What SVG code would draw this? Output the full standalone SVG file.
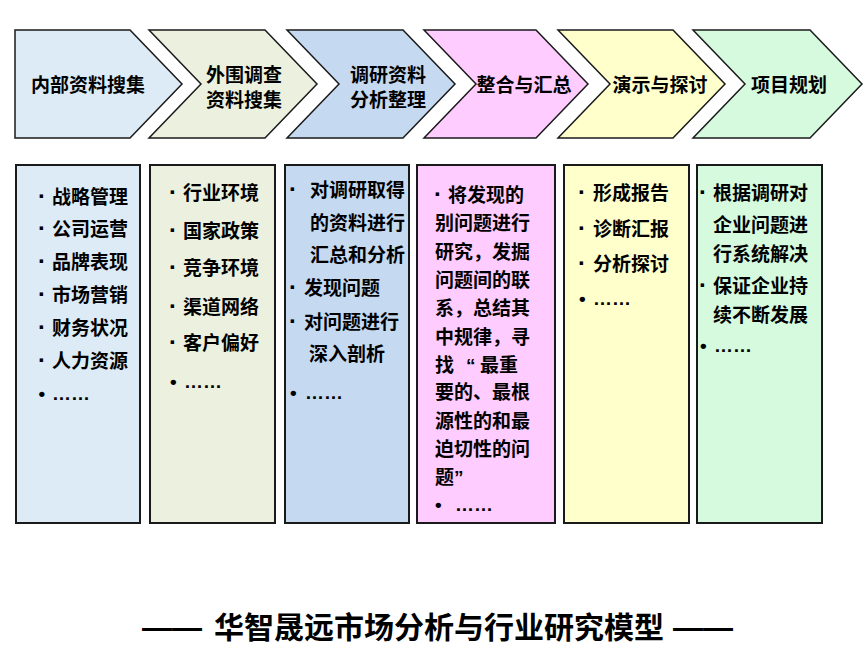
<svg xmlns="http://www.w3.org/2000/svg" width="865" height="662" viewBox="0 0 865 662">
<style>
  .chev { stroke: #1a1a1a; stroke-width: 1.5; stroke-linejoin: miter; }
  .box { stroke: #1a1a1a; stroke-width: 2; }
  text { font-family: "Liberation Sans", "Noto Sans CJK SC", sans-serif; font-weight: 700; fill: #000; }
  .h { font-size: 19px; text-anchor: middle; }
  .t { font-size: 19px; }
  .b { font-size: 24px; }
  .title { font-size: 30px; }
  .c1 { fill: #DDEBF7; } .c2 { fill: #EBF1DE; } .c3 { fill: #C5D9F1; }
  .c4 { fill: #FFCCFF; } .c5 { fill: #FFFFCC; } .c6 { fill: #D6FADD; }
</style>
<rect width="865" height="662" fill="#fff"/>

<g id="step1">
  <polygon class="chev c1" points="15,30 130,30 182,84 130,138 15,138"/>
  <text class="h" x="88" y="92">内部资料搜集</text>
</g>
<g id="step2">
  <polygon class="chev c2" points="149,30 265,30 317,84 265,138 149,138 201,84"/>
  <text class="h" x="244" y="82">外围调查</text>
  <text class="h" x="244" y="107">资料搜集</text>
</g>
<g id="step3">
  <polygon class="chev c3" points="287,30 403,30 455,84 403,138 287,138 339,84"/>
  <text class="h" x="388" y="82">调研资料</text>
  <text class="h" x="388" y="107">分析整理</text>
</g>
<g id="step4">
  <polygon class="chev c4" points="424,30 536,30 588,84 536,138 424,138 476,84"/>
  <text class="h" x="524" y="92">整合与汇总</text>
</g>
<g id="step5">
  <polygon class="chev c5" points="558,30 673,30 725,84 673,138 558,138 610,84"/>
  <text class="h" x="660" y="92">演示与探讨</text>
</g>
<g id="step6">
  <polygon class="chev c6" points="693,30 810,30 862,84 810,138 693,138 745,84"/>
  <text class="h" x="789" y="92">项目规划</text>
</g>

<g id="detail1">
  <rect class="box c1" x="16" y="165" width="124" height="358"/>
  <text class="t"><tspan class="b" x="38" y="204">·</tspan><tspan x="52">战略管理</tspan></text>
  <text class="t"><tspan class="b" x="38" y="236">·</tspan><tspan x="52">公司运营</tspan></text>
  <text class="t"><tspan class="b" x="38" y="269">·</tspan><tspan x="52">品牌表现</tspan></text>
  <text class="t"><tspan class="b" x="38" y="302">·</tspan><tspan x="52">市场营销</tspan></text>
  <text class="t"><tspan class="b" x="38" y="335">·</tspan><tspan x="52">财务状况</tspan></text>
  <text class="t"><tspan class="b" x="38" y="368">·</tspan><tspan x="52">人力资源</tspan></text>
  <text class="t"><tspan x="38.5" y="400">•</tspan><tspan x="52">……</tspan></text>
</g>

<g id="detail2">
  <rect class="box c2" x="150" y="165" width="125" height="358"/>
  <text class="t"><tspan class="b" x="169" y="200">·</tspan><tspan x="183">行业环境</tspan></text>
  <text class="t"><tspan class="b" x="169" y="238">·</tspan><tspan x="183">国家政策</tspan></text>
  <text class="t"><tspan class="b" x="169" y="275">·</tspan><tspan x="183">竞争环境</tspan></text>
  <text class="t"><tspan class="b" x="169" y="314">·</tspan><tspan x="183">渠道网络</tspan></text>
  <text class="t"><tspan class="b" x="169" y="350">·</tspan><tspan x="183">客户偏好</tspan></text>
  <text class="t"><tspan x="170" y="388">•</tspan><tspan x="184">……</tspan></text>
</g>

<g id="detail3">
  <rect class="box c3" x="285" y="165" width="124" height="358"/>
  <text class="t"><tspan class="b" x="289" y="197">·</tspan><tspan x="310">对调研取得</tspan></text>
  <text class="t" x="310" y="230">的资料进行</text>
  <text class="t" x="310" y="262">汇总和分析</text>
  <text class="t"><tspan class="b" x="289" y="295">·</tspan><tspan x="304">发现问题</tspan></text>
  <text class="t"><tspan class="b" x="289" y="329">·</tspan><tspan x="304">对问题进行</tspan></text>
  <text class="t" x="309" y="361">深入剖析</text>
  <text class="t"><tspan x="290" y="399">•</tspan><tspan x="305">……</tspan></text>
</g>

<g id="detail4">
  <rect class="box c4" x="417" y="165" width="138" height="358"/>
  <text class="t"><tspan class="b" x="434" y="202">·</tspan><tspan x="448">将发现的</tspan></text>
  <text class="t" x="435" y="230">别问题进行</text>
  <text class="t" x="435" y="259">研究，发掘</text>
  <text class="t" x="435" y="287">问题间的联</text>
  <text class="t" x="435" y="315">系，总结其</text>
  <text class="t" x="435" y="344">中规律，寻</text>
  <text class="t"><tspan x="435" y="372">找 </tspan><tspan x="466">“</tspan><tspan x="480">最重</tspan></text>
  <text class="t" x="435" y="399">要的、最根</text>
  <text class="t" x="435" y="428">源性的和最</text>
  <text class="t" x="435" y="456">迫切性的问</text>
  <text class="t" x="435" y="484">题”</text>
  <text class="t"><tspan x="435" y="511">•</tspan><tspan x="455">……</tspan></text>
</g>

<g id="detail5">
  <rect class="box c5" x="564" y="165" width="125" height="358"/>
  <text class="t"><tspan class="b" x="578" y="200">·</tspan><tspan x="593">形成报告</tspan></text>
  <text class="t"><tspan class="b" x="578" y="236">·</tspan><tspan x="593">诊断汇报</tspan></text>
  <text class="t"><tspan class="b" x="578" y="271">·</tspan><tspan x="593">分析探讨</tspan></text>
  <text class="t"><tspan x="579" y="305">•</tspan><tspan x="593">……</tspan></text>
</g>

<g id="detail6">
  <rect class="box c6" x="697" y="165" width="125" height="358"/>
  <text class="t"><tspan class="b" x="699" y="200">·</tspan><tspan x="713">根据调研对</tspan></text>
  <text class="t" x="713" y="232">企业问题进</text>
  <text class="t" x="713" y="261">行系统解决</text>
  <text class="t"><tspan class="b" x="699" y="293">·</tspan><tspan x="713">保证企业持</tspan></text>
  <text class="t" x="713" y="322">续不断发展</text>
  <text class="t"><tspan x="700" y="352">•</tspan><tspan x="714">……</tspan></text>
</g>

<g id="caption">
  <text class="title"><tspan x="142" y="638">—— </tspan><tspan x="214">华智晟远市场分析与行业研究模型 </tspan><tspan x="673">——</tspan></text>
</g>
</svg>
